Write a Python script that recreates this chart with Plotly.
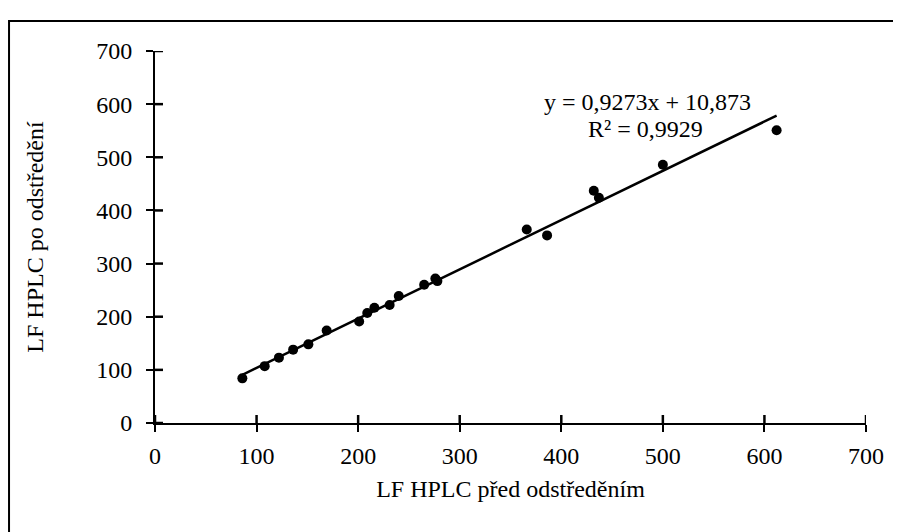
import plotly.graph_objects as go

x_before = [86, 108, 122, 136, 151, 169, 201, 209, 216, 231, 240, 265, 276, 278, 366, 386, 432, 437, 500, 612]
y_after = [84, 107, 123, 138, 148, 174, 191, 207, 217, 222, 239, 260, 272, 267, 364, 353, 437, 424, 486, 551]

slope = 0.9273
intercept = 10.873
r2_text = "R² = 0,9929"
eq_text = "y = 0,9273x + 10,873"

tick_vals = [0, 100, 200, 300, 400, 500, 600, 700]
x_title = "LF HPLC před odstředěním"
y_title = "LF HPLC po odstředění"

xmin, xmax = min(x_before), max(x_before)
trend_x = [xmin, xmax]
trend_y = [slope * v + intercept for v in trend_x]

FONT = "Liberation Serif, Times New Roman, serif"
FS = 24

PLOT_W, PLOT_H = 711, 372
TICK_PX = 8
AX_MAX = 700
tick_dx = TICK_PX * AX_MAX / PLOT_W
tick_dy = TICK_PX * AX_MAX / PLOT_H

# inside halves of the cross tick marks, built from the tick values
xt_x, xt_y, yt_x, yt_y = [], [], [], []
for v in tick_vals:
    xt_x += [v, v, None]
    xt_y += [0, tick_dy, None]
    yt_x += [0, tick_dx, None]
    yt_y += [v, v, None]

fig = go.Figure()
fig.add_trace(go.Scatter(x=xt_x, y=xt_y, mode="lines", line=dict(color="black", width=2.5, simplify=False),
                         connectgaps=False, cliponaxis=False, showlegend=False, hoverinfo="skip"))
fig.add_trace(go.Scatter(x=yt_x, y=yt_y, mode="lines", line=dict(color="black", width=2.5, simplify=False),
                         connectgaps=False, cliponaxis=False, showlegend=False, hoverinfo="skip"))
fig.add_trace(go.Scatter(x=trend_x, y=trend_y, mode="lines",
                         line=dict(color="black", width=2.5), showlegend=False, hoverinfo="skip"))
fig.add_trace(go.Scatter(x=x_before, y=y_after, mode="markers",
                         marker=dict(color="black", size=10), showlegend=False))

axis_common = dict(range=[0, AX_MAX], tickvals=tick_vals, showgrid=False, zeroline=False,
                   showline=True, linecolor="black", linewidth=2,
                   ticks="outside", ticklen=7, tickwidth=2, tickcolor="black",
                   tickfont=dict(family=FONT, size=FS, color="black"))

fig.update_layout(
    width=901, height=532,
    margin=dict(l=147, r=43, t=43, b=117),
    paper_bgcolor="white", plot_bgcolor="white",
    font=dict(family=FONT, color="black"),
    xaxis=dict(**axis_common, ticklabelstandoff=3,
               title=dict(text=x_title, font=dict(family=FONT, size=FS), standoff=12)),
    yaxis=dict(**axis_common, ticklabelstandoff=9,
               title=dict(text=y_title, font=dict(family=FONT, size=FS), standoff=46)),
    annotations=[
        dict(x=485, y=604, xref="x", yref="y", text=eq_text, showarrow=False,
             font=dict(family=FONT, size=FS, color="black")),
        dict(x=483, y=553, xref="x", yref="y", text=r2_text, showarrow=False,
             font=dict(family=FONT, size=FS, color="black")),
    ],
    shapes=[dict(type="rect", xref="paper", yref="paper",
                 x0=-0.2053, x1=1.0464, y0=-0.30, y1=1.0806,
                 line=dict(color="black", width=2), fillcolor="rgba(0,0,0,0)", layer="below")],
)

fig.write_html("out.html")
